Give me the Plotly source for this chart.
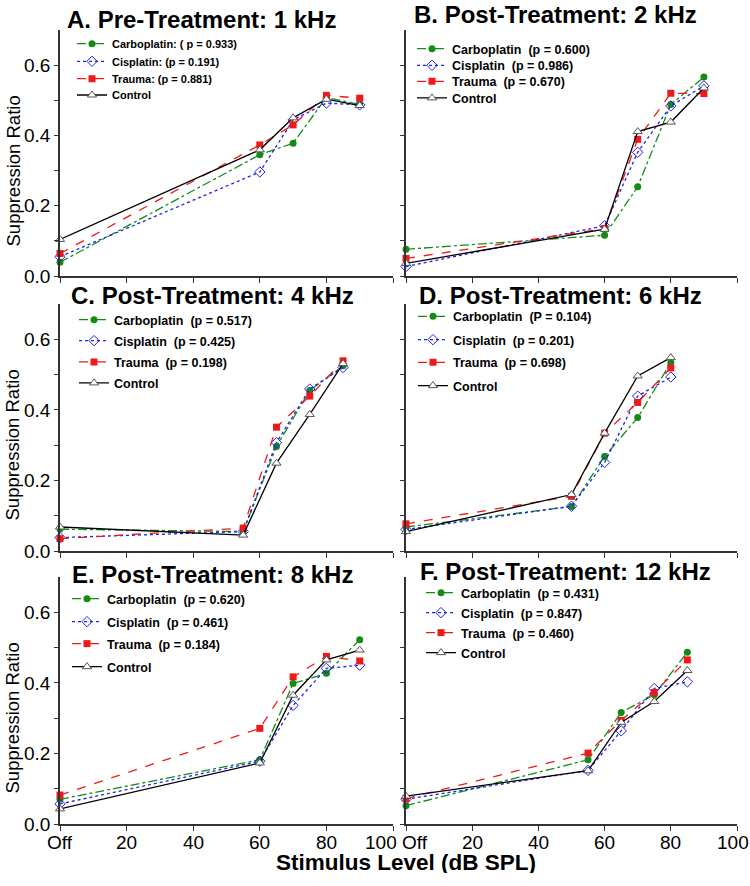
import plotly.graph_objects as go

# stimulus levels (dB SPL, 0 = "Off") for each panel
levels_a = [0, 60, 70, 80, 90]
levels_b = [0, 60, 70, 80, 90]
levels_c = [0, 55, 65, 75, 85]
levels_d = [0, 50, 60, 70, 80]
levels_e = [0, 60, 70, 80, 90]
levels_f = [0, 55, 65, 75, 85]

# suppression ratios
carbo_a = [0.039, 0.345, 0.378, 0.508, 0.488]
cis_a = [0.055, 0.296, 0.444, 0.492, 0.487]
trauma_a = [0.064, 0.373, 0.430, 0.514, 0.506]
control_a = [0.104, 0.359, 0.450, 0.503, 0.485]

carbo_b = [0.076, 0.116, 0.254, 0.488, 0.566]
cis_b = [0.027, 0.143, 0.352, 0.484, 0.541]
trauma_b = [0.050, 0.135, 0.389, 0.520, 0.519]
control_b = [0.036, 0.133, 0.411, 0.438, 0.535]

carbo_c = [0.062, 0.055, 0.296, 0.455, 0.525]
cis_c = [0.038, 0.055, 0.307, 0.459, 0.520]
trauma_c = [0.035, 0.065, 0.351, 0.439, 0.539]
control_c = [0.068, 0.045, 0.249, 0.387, 0.531]

carbo_d = [0.068, 0.126, 0.268, 0.378, 0.534]
cis_d = [0.061, 0.127, 0.251, 0.439, 0.493]
trauma_d = [0.077, 0.155, 0.334, 0.421, 0.519]
control_d = [0.055, 0.160, 0.334, 0.496, 0.548]

carbo_e = [0.070, 0.182, 0.398, 0.427, 0.522]
cis_e = [0.057, 0.178, 0.336, 0.441, 0.450]
trauma_e = [0.082, 0.271, 0.417, 0.475, 0.462]
control_e = [0.043, 0.173, 0.365, 0.465, 0.493]

carbo_f = [0.052, 0.182, 0.316, 0.366, 0.487]
cis_f = [0.070, 0.152, 0.264, 0.384, 0.403]
trauma_f = [0.072, 0.201, 0.294, 0.373, 0.465]
control_f = [0.079, 0.151, 0.288, 0.347, 0.435]

titles = ["A. Pre-Treatment: 1 kHz", "B. Post-Treatment: 2 kHz",
          "C. Post-Treatment: 4 kHz", "D. Post-Treatment: 6 kHz",
          "E. Post-Treatment: 8 kHz", "F. Post-Treatment: 12 kHz"]

labels_a = ["Carboplatin: ( p = 0.933)", "Cisplatin: (p = 0.191)", "Trauma: (p = 0.881)", "Control"]
labels_b = ["Carboplatin  (p = 0.600)", "Cisplatin  (p = 0.986)", "Trauma  (p = 0.670)", "Control"]
labels_c = ["Carboplatin  (p = 0.517)", "Cisplatin  (p = 0.425)", "Trauma  (p = 0.198)", "Control"]
labels_d = ["Carboplatin  (P = 0.104)", "Cisplatin  (p = 0.201)", "Trauma  (p = 0.698)", "Control"]
labels_e = ["Carboplatin  (p = 0.620)", "Cisplatin  (p = 0.461)", "Trauma  (p = 0.184)", "Control"]
labels_f = ["Carboplatin  (p = 0.431)", "Cisplatin  (p = 0.847)", "Trauma  (p = 0.460)", "Control"]

x_ticks = [0, 20, 40, 60, 80, 100]
x_ticktext = ["Off", "20", "40", "60", "80", "100"]
y_ticks = [0, 0.1, 0.2, 0.3, 0.4, 0.5, 0.6]
y_ticktext = ["0.0", "", "0.2", "", "0.4", "", "0.6"]

FONT = "Liberation Sans, Arial, sans-serif"
W, H = 750, 886

panels = [
    (levels_a, [carbo_a, cis_a, trauma_a, control_a], labels_a),
    (levels_b, [carbo_b, cis_b, trauma_b, control_b], labels_b),
    (levels_c, [carbo_c, cis_c, trauma_c, control_c], labels_c),
    (levels_d, [carbo_d, cis_d, trauma_d, control_d], labels_d),
    (levels_e, [carbo_e, cis_e, trauma_e, control_e], labels_e),
    (levels_f, [carbo_f, cis_f, trauma_f, control_f], labels_f),
]

styles = [
    dict(color="#148c14", dash="dashdot", marker=dict(symbol="circle", size=7, color="#148c14")),
    dict(color="#2020f0", dash="dot", marker=dict(symbol="diamond-open", size=8, color="#2020f0", line=dict(width=1))),
    dict(color="#f01818", dash="dash", marker=dict(symbol="square", size=7, color="#f01818")),
    dict(color="#000000", dash="solid", marker=dict(symbol="triangle-up", size=8, color="white",
                                                      line=dict(color="#555555", width=1))),
]

# layout geometry in pixels
x_dom = [(60, 393), (406, 737)]
y_dom = [(30, 276), (304, 551), (577, 824)]
title_pos = [(201, 19), (555, 15), (212, 295), (560, 295), (213, 574), (565, 571)]
legend_text_x = [112, 452, 114, 453, 107, 461]
legend_rows = [(43.7, 61.3, 78.7, 95), (49, 65.7, 81.7, 98.3), (320, 341, 362.3, 383.3),
               (316.7, 340, 362.7, 386), (599, 622, 644, 667), (593, 613, 633, 653)]
legend_size = [11, 12.5, 12.5, 12.5, 12.5, 12.5]
# small horizontal nudges of the bottom tick labels (the edge labels sit inward)
label_shift = {(0, 100): -12, (1, 0): 9, (1, 100): -4}

fig = go.Figure()
layout = {}
annotations = []
k = 0
for i, (xs, series, labels) in enumerate(panels):
    row, col = divmod(i, 2)
    n = i + 1
    xa = "x" if n == 1 else f"x{n}"
    ya = "y" if n == 1 else f"y{n}"
    for j, (ys, lab) in enumerate(zip(series, labels)):
        k += 1
        lg = "legend" if k == 1 else f"legend{k}"
        st = styles[j]
        fig.add_trace(go.Scatter(
            x=xs, y=ys, mode="lines+markers", name=f"<b>{lab.replace('  ', '\u00a0 ')}</b>",
            line=dict(color=st["color"], dash=st["dash"], width=1.3),
            marker=st["marker"], xaxis=xa, yaxis=ya, legend=lg, showlegend=True,
            cliponaxis=False, hoverinfo="skip",
        ))
        layout[lg] = dict(
            x=(legend_text_x[i] - 40) / W, xanchor="left",
            y=(H - legend_rows[i][j]) / H, yanchor="middle",
            bgcolor="rgba(0,0,0,0)", borderwidth=0,
            font=dict(family=FONT, size=legend_size[i], color="black"),
            itemwidth=30,
        )
    x0, x1 = x_dom[col]
    y0, y1 = y_dom[row]
    xkey = "xaxis" if n == 1 else f"xaxis{n}"
    ykey = "yaxis" if n == 1 else f"yaxis{n}"
    layout[xkey] = dict(
        domain=[x0 / W, x1 / W], anchor=ya, range=[0, 100], automargin=False,
        tickvals=x_ticks, showticklabels=False,
        ticks="outside", ticklen=5, tickwidth=1.3, tickcolor="#333333",
        showline=True, linecolor="#333333", linewidth=1.5,
        showgrid=False, zeroline=False,
    )
    layout[ykey] = dict(
        domain=[(H - y1) / H, (H - y0) / H], anchor=xa, range=[0, 0.7], automargin=False,
        tickvals=y_ticks, ticktext=y_ticktext, showticklabels=(col == 0),
        ticklabeloverflow="allow",
        ticks="outside", ticklen=4, tickwidth=1.3, tickcolor="#333333",
        showline=True, linecolor="#333333", linewidth=1.5,
        showgrid=False, zeroline=False,
        tickfont=dict(family=FONT, size=19, color="black"),
    )
    # x tick labels of the bottom row, placed on the axis scale
    if row == 2:
        for tv, tt in zip(x_ticks, x_ticktext):
            annotations.append(dict(
                text=tt, x=tv, xref=xa, y=(H - 842) / H, yref="paper",
                xanchor="center", yanchor="middle", showarrow=False, height=16,
                xshift=label_shift.get((col, tv), 0),
                font=dict(family=FONT, size=19, color="black"),
            ))
    tx, ty = title_pos[i]
    annotations.append(dict(
        text=f"<b>{titles[i]}</b>", x=tx / W, y=(H - ty) / H, xref="paper", yref="paper",
        xanchor="center", yanchor="middle", showarrow=False,
        font=dict(family=FONT, size=24, color="black"),
    ))

for yc in (171, 445, 718):
    annotations.append(dict(
        text="Suppression Ratio", x=12.5 / W, y=(H - yc) / H, xref="paper", yref="paper",
        xanchor="center", yanchor="middle", textangle=-90, showarrow=False,
        font=dict(family=FONT, size=18.5, color="black"),
    ))

annotations.append(dict(
    text="<b>Stimulus Level (dB SPL)</b>", x=406 / W, y=(H - 862) / H, xref="paper", yref="paper",
    xanchor="center", yanchor="middle", showarrow=False, height=21,
    font=dict(family=FONT, size=22.5, color="black"),
))

fig.update_layout(
    template="none",
    width=W, height=H, margin=dict(l=0, r=0, t=0, b=0, autoexpand=False),
    paper_bgcolor="white", plot_bgcolor="white",
    annotations=annotations, **layout,
)

fig.write_html("out.html", config={"displayModeBar": False},
               post_script="document.body.style.margin='0';")
